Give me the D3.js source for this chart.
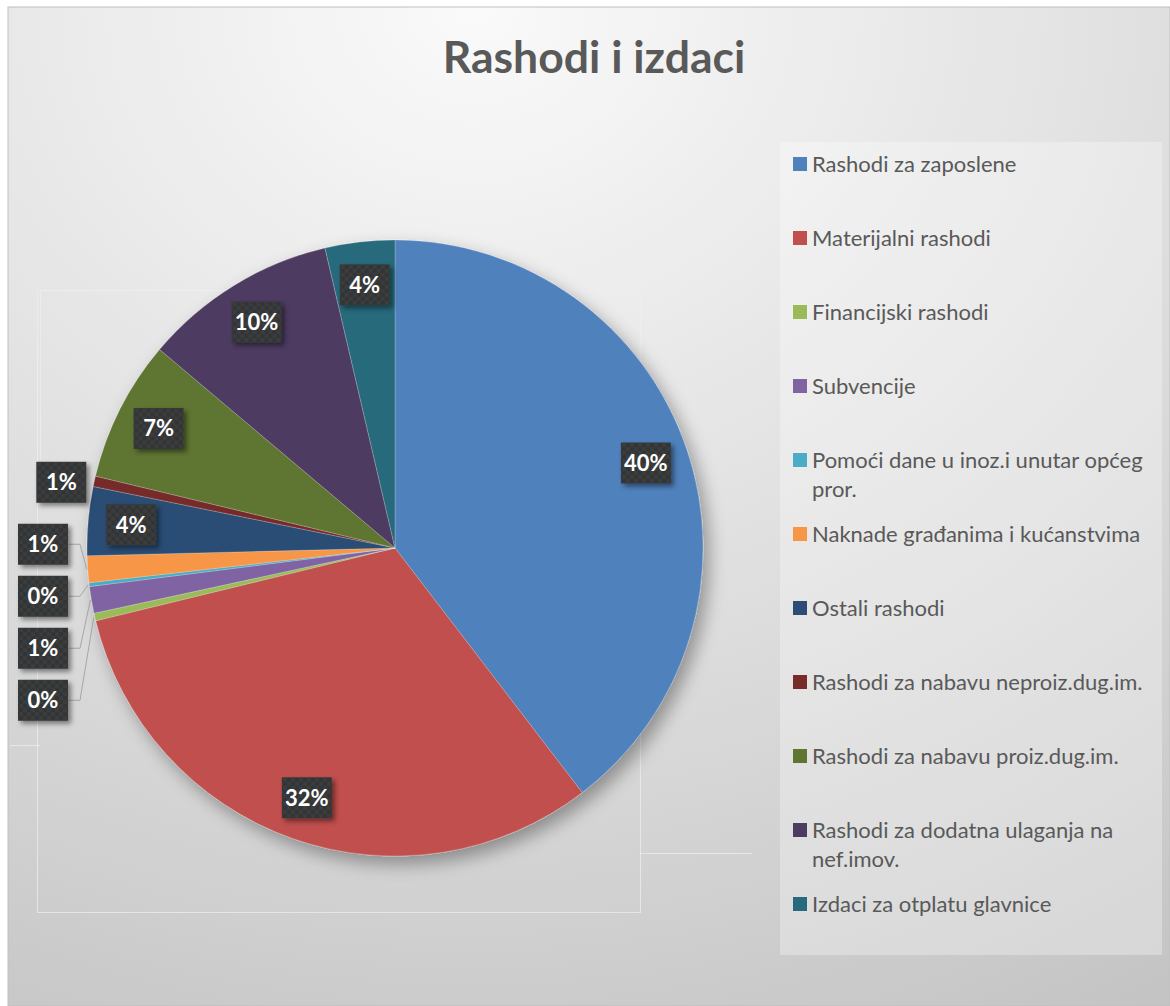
<!DOCTYPE html>
<html>
<head>
<meta charset="utf-8">
<script src="https://cdn.jsdelivr.net/npm/d3@7"></script>
<style>
  body { margin: 0; background: #fff; }
  svg { display: block; }
  text { font-family: Lato, "Open Sans", sans-serif; }
</style>
</head>
<body>
<div class="chart"></div>
<script>
// data
var categories = [
  "Rashodi za zaposlene",
  "Materijalni rashodi",
  "Financijski rashodi",
  "Subvencije",
  "Pomoći dane u inoz.i unutar općeg pror.",
  "Naknade građanima i kućanstvima",
  "Ostali rashodi",
  "Rashodi za nabavu neproiz.dug.im.",
  "Rashodi za nabavu proiz.dug.im.",
  "Rashodi za dodatna ulaganja na nef.imov.",
  "Izdaci za otplatu glavnice"
];
var values = [39.6, 31.6, 0.4, 1.4, 0.2, 1.4, 3.6, 0.55, 7.4, 10.2, 3.65];
var colors = ["#4f81bd", "#c0504d", "#9bbb59", "#8064a2", "#4bacc6", "#f79646",
              "#2c4d75", "#772c2a", "#5f7530", "#4d3b62", "#276a7c"];

var W = 1170, H = 1006;
var cx = 395, cy = 548, R = 308;

var svg = d3.select(".chart").append("svg")
    .attr("width", W).attr("height", H);

var defs = svg.append("defs");

// background gradient
var bg = defs.append("radialGradient").attr("id", "bg")
    .attr("cx", "40%").attr("cy", "0%").attr("r", "115%")
    .attr("gradientUnits", "objectBoundingBox");
bg.append("stop").attr("offset", "0%").attr("stop-color", "#fafafa");
bg.append("stop").attr("offset", "55%").attr("stop-color", "#dddedd");
bg.append("stop").attr("offset", "100%").attr("stop-color", "#c3c4c3");

// pie shadow
var sh = defs.append("filter").attr("id", "pieShadow")
    .attr("x", "-20%").attr("y", "-20%").attr("width", "140%").attr("height", "140%");
sh.append("feGaussianBlur").attr("in", "SourceAlpha").attr("stdDeviation", 9);
sh.append("feOffset").attr("dx", 6).attr("dy", 8).attr("result", "ob");
sh.append("feComponentTransfer").append("feFuncA").attr("type", "linear").attr("slope", 0.35);
var shm = sh.append("feMerge");
shm.append("feMergeNode");
shm.append("feMergeNode").attr("in", "SourceGraphic");

// label shadow
var ls = defs.append("filter").attr("id", "lblShadow")
    .attr("x", "-30%").attr("y", "-30%").attr("width", "170%").attr("height", "170%");
ls.append("feDropShadow").attr("dx", 3).attr("dy", 3).attr("stdDeviation", 2.5)
    .attr("flood-color", "#000").attr("flood-opacity", 0.45);

// checker texture for label boxes
var pat = defs.append("pattern").attr("id", "checker")
    .attr("width", 8).attr("height", 8).attr("patternUnits", "userSpaceOnUse");
pat.append("rect").attr("width", 8).attr("height", 8).attr("fill", "#3b3c3d");
pat.append("rect").attr("width", 4).attr("height", 4).attr("fill", "#333435");
pat.append("rect").attr("x", 4).attr("y", 4).attr("width", 4).attr("height", 4).attr("fill", "#333435");

// chart area
svg.append("rect").attr("x", 8).attr("y", 7).attr("width", W - 8).attr("height", H - 7)
    .attr("fill", "url(#bg)").attr("stroke", "#bfbfbf").attr("stroke-width", 1);

// faint plot-area artefacts
var faint = svg.append("g").attr("fill", "none").attr("stroke", "#f0f0f0").attr("stroke-opacity", 0.7);
faint.append("rect").attr("x", 37.5).attr("y", 290.5).attr("width", 603).attr("height", 622);
faint.append("line").attr("x1", 10).attr("x2", 40).attr("y1", 745.5).attr("y2", 745.5);
faint.append("line").attr("x1", 640).attr("x2", 752).attr("y1", 853.5).attr("y2", 853.5);
faint.append("line").attr("x1", 40.5).attr("x2", 40.5).attr("y1", 290).attr("y2", 460);

// title
svg.append("text")
    .attr("x", 594).attr("y", 73)
    .attr("text-anchor", "middle")
    .attr("font-size", 44.5).attr("font-weight", "bold")
    .attr("fill", "#595959")
    .text("Rashodi i izdaci");

// legend panel
svg.append("rect").attr("x", 780).attr("y", 142).attr("width", 382).attr("height", 813)
    .attr("fill", "#ffffff").attr("fill-opacity", 0.3);

var legend = svg.append("g");
var legendMax = 345;
categories.forEach(function (c, i) {
  var y = 164 + i * 74;
  legend.append("rect").attr("x", 793).attr("y", y - 7).attr("width", 14).attr("height", 14)
      .attr("fill", colors[i]);
  var t = legend.append("text").attr("x", 812).attr("y", y + 7.5)
      .attr("font-size", 22).attr("fill", "#595959");
  // simple word wrap
  var words = c.split(" "), line = [];
  var ts = t.append("tspan").attr("x", 812).attr("dy", 0);
  words.forEach(function (w) {
    line.push(w);
    ts.text(line.join(" "));
    if (ts.node().getComputedTextLength() > legendMax && line.length > 1) {
      line.pop();
      ts.text(line.join(" "));
      line = [w];
      ts = t.append("tspan").attr("x", 812).attr("dy", 29).text(w);
    }
  });
});

// pie
var pie = d3.pie().sort(null).value(function (d) { return d; });
var arcs = pie(values);
var total = d3.sum(values);
var arc = d3.arc().innerRadius(0).outerRadius(R);
var labelArc = d3.arc().innerRadius(R * 0.86).outerRadius(R * 0.86);

var g = svg.append("g").attr("transform", "translate(" + cx + "," + cy + ")");
g.append("g").attr("filter", "url(#pieShadow)")
  .selectAll("path")
  .data(arcs)
  .enter().append("path")
    .attr("d", arc)
    .attr("fill", function (d, i) { return colors[i]; })
    .attr("stroke", "#ffffff").attr("stroke-opacity", 0.35).attr("stroke-width", 0.6);

function pct(d) { return Math.round(d.value / total * 100) + "%"; }

function drawLabel(x, y, txt) {
  var lg = g.append("g").attr("transform", "translate(" + x + "," + y + ")");
  lg.append("rect").attr("x", -25).attr("y", -20.5).attr("width", 50).attr("height", 41)
      .attr("fill", "url(#checker)").attr("filter", "url(#lblShadow)");
  lg.append("text").attr("text-anchor", "middle").attr("dy", "0.36em")
      .attr("font-size", 22).attr("font-weight", "bold").attr("fill", "#ffffff")
      .text(txt);
}

function edgePoint(d, r) {
  var a = (d.startAngle + d.endAngle) / 2;
  return [Math.sin(a) * r, -Math.cos(a) * r];
}

// group consecutive small slices
var groups = [], cur = [];
arcs.forEach(function (d) {
  if (d.value / total < 0.02) { cur.push(d); }
  else { if (cur.length) groups.push(cur); cur = []; }
});
if (cur.length) groups.push(cur);

var leaders = g.append("g").attr("fill", "none").attr("stroke", "#a6a6a6").attr("stroke-width", 1);

// big labels inside
arcs.forEach(function (d) {
  if (d.value / total >= 0.02) {
    var c = labelArc.centroid(d);
    drawLabel(c[0], c[1], pct(d));
  }
});

groups.forEach(function (grp) {
  if (grp.length === 1) {
    var p = edgePoint(grp[0], R);
    drawLabel(p[0] - 33, p[1] + 1, pct(grp[0]));
  } else {
    var pts = grp.map(function (d) { return { d: d, p: edgePoint(d, R) }; });
    pts.sort(function (a, b) { return a.p[1] - b.p[1]; });
    var lx = -R - 44;
    var y0 = pts[0].p[1] - 25;
    pts.forEach(function (o, k) {
      var ly = y0 + k * 52;
      leaders.append("polyline")
          .attr("points", [[lx + 26, ly], [lx + 37, ly], [o.p[0] - 1, o.p[1]]].map(String).join(" "));
      drawLabel(lx, ly, pct(o.d));
    });
  }
});
</script>
</body>
</html>
